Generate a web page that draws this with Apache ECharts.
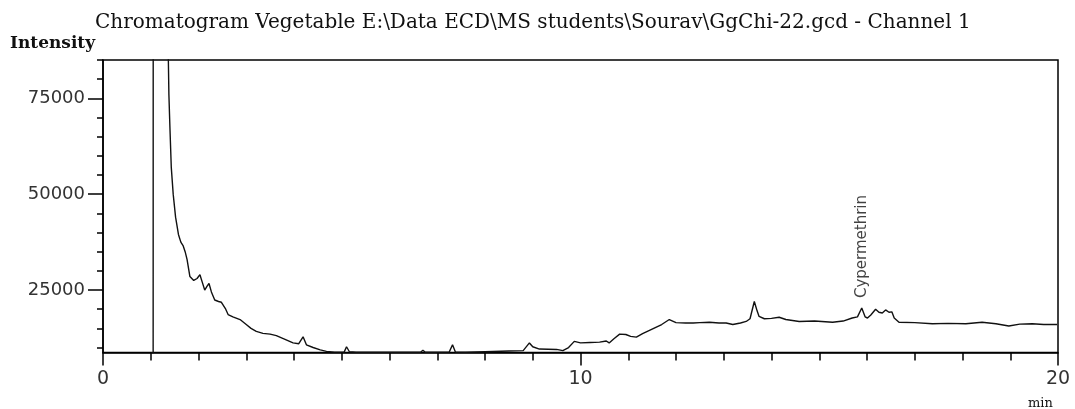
<!DOCTYPE html>
<html>
<head>
<meta charset="utf-8">
<script src="https://cdn.jsdelivr.net/npm/echarts@6/dist/echarts.min.js"></script>
<style>
html,body{margin:0;padding:0;background:#fff;}
#chart{width:1075px;height:409px;}
</style>
</head>
<body>
<div id="chart"></div>
<script>
// Chart text
const chartTitle = 'Chromatogram Vegetable E:\\Data ECD\\MS students\\Sourav\\GgChi-22.gcd - Channel 1';
const yAxisTitle = 'Intensity';
const xAxisTitle = 'min';

// Axis ranges and ticks
const xRange = [0, 20];
const yRange = [8700, 85000];
const yMajorTicks = [25000, 50000, 75000];
const yMinorTicks = [10000, 15000, 20000, 25000, 30000, 35000, 40000, 45000, 50000, 55000, 60000, 65000, 70000, 75000, 80000, 85000];

// Trace: retention time (min) and intensity
const retentionTime = [
  1.00, 1.05, 1.055, 1.34, 1.35, 1.38, 1.40, 1.43, 1.47, 1.52, 1.58, 1.63, 1.68, 1.72, 1.76, 1.82, 1.90, 1.97, 2.03, 2.08,
  2.13, 2.18, 2.22, 2.27, 2.34, 2.42, 2.48, 2.52, 2.57, 2.62, 2.72, 2.87, 3.00, 3.10, 3.21, 3.35, 3.50, 3.63, 3.80, 3.98,
  4.10, 4.19, 4.26, 4.40, 4.55, 4.68, 4.85, 5.05, 5.10, 5.16, 5.30, 5.80, 6.30, 6.65, 6.70, 6.75, 7.00, 7.25, 7.32, 7.38,
  7.60, 8.00, 8.50, 8.80, 8.93, 9.00, 9.14, 9.50, 9.63, 9.75, 9.87, 10.00, 10.20, 10.40, 10.54, 10.60, 10.70, 10.82, 10.95, 11.05,
  11.17, 11.30, 11.50, 11.70, 11.86, 12.00, 12.20, 12.36, 12.50, 12.70, 12.90, 13.05, 13.19, 13.35, 13.47, 13.55, 13.64, 13.70, 13.74, 13.85,
  14.00, 14.16, 14.30, 14.58, 14.90, 15.28, 15.50, 15.69, 15.80, 15.89, 15.96, 16.01, 16.08, 16.18, 16.25, 16.32, 16.39, 16.46, 16.52, 16.57,
  16.67, 17.00, 17.37, 17.70, 18.07, 18.41, 18.70, 18.97, 19.20, 19.46, 19.70, 19.98
];
const intensity = [
  8500, 8500, 300000, 300000, 100000, 76000, 68000, 57000, 50000, 44000, 39500, 37500, 36500, 35000, 33000, 28500, 27500, 28000, 29000, 27000,
  25000, 26000, 26700, 24500, 22400, 22000, 21800, 21500, 20000, 18600, 18000, 17300, 16000, 15000, 14200, 13700, 13500, 13100, 12200, 11200,
  11000, 12800, 10700, 10000, 9400, 9000, 8800, 8800, 10200, 8900, 8750, 8750, 8750, 8750, 9300, 8750, 8750, 8800, 10700, 8800,
  8750, 8900, 9100, 9200, 11200, 10200, 9600, 9500, 9200, 10000, 11600, 11200, 11300, 11400, 11700, 11200, 12300, 13500, 13400, 12900,
  12700, 13600, 14800, 16000, 17300, 16500, 16400, 16400, 16500, 16600, 16400, 16400, 16000, 16400, 16800, 17500, 22000, 19500, 18100, 17500,
  17600, 17900, 17300, 16800, 16900, 16600, 16900, 17700, 18000, 20300, 18000, 17700, 18500, 20000, 19200, 19000, 19800, 19200, 19300, 17700,
  16600, 16500, 16200, 16300, 16200, 16600, 16200, 15600, 16100, 16200, 16000, 16000
];

// Peak annotation
const peakName = 'Cypermethrin';
const peakTime = 15.89;
const peakIntensity = 20300;

const traceData = retentionTime.map((t, i) => [t, intensity[i]]);

const chart = echarts.init(document.getElementById('chart'), null, {renderer: 'canvas'});
const axisColor = '#000';
const labelFont = 'DejaVu Sans';
const option = {
  animation: false,
  backgroundColor: '#fff',
  title: [
    {text: chartTitle, left: 90, top: 8, padding: 5,
     textStyle: {fontFamily: 'DejaVu Serif', fontSize: 20, fontWeight: 'normal', color: '#111'}},
    {text: yAxisTitle, left: 5, top: 30, padding: 5,
     textStyle: {fontFamily: 'DejaVu Serif', fontSize: 17, fontWeight: 'bold', color: '#111'}},
    {text: xAxisTitle, left: 1023, top: 392, padding: 5,
     textStyle: {fontFamily: 'DejaVu Serif', fontSize: 13, fontWeight: 'normal', color: '#111'}}
  ],
  grid: {left: 103, right: 17, top: 60, bottom: 56.5, show: true, borderColor: '#000', borderWidth: 1.5, backgroundColor: 'transparent'},
  xAxis: {
    type: 'value', min: xRange[0], max: xRange[1], interval: 10,
    axisLine: {show: true, lineStyle: {color: axisColor, width: 1.5}},
    axisTick: {show: true, length: 13, lineStyle: {color: axisColor, width: 1.5}},
    minorTick: {show: true, splitNumber: 10, length: 8, lineStyle: {color: axisColor, width: 1.5}},
    axisLabel: {margin: 17, fontFamily: labelFont, fontSize: 19, color: '#333'},
    splitLine: {show: false}
  },
  yAxis: [
    {
      type: 'value', min: yRange[0], max: yRange[1], position: 'left',
      axisLine: {show: true, lineStyle: {color: axisColor, width: 1.5}},
      axisTick: {show: true, length: 15, customValues: yMajorTicks, lineStyle: {color: axisColor, width: 1.5}},
      axisLabel: {margin: 18, customValues: yMajorTicks, formatter: v => String(v), fontFamily: labelFont, fontSize: 18, color: '#333'},
      splitLine: {show: false}
    },
    {
      type: 'value', min: yRange[0], max: yRange[1], position: 'left',
      axisLine: {show: false},
      axisTick: {show: true, length: 6, customValues: yMinorTicks, lineStyle: {color: axisColor, width: 1.5}},
      axisLabel: {show: false},
      splitLine: {show: false}
    }
  ],
  series: [
    {
      type: 'line', data: traceData, yAxisIndex: 0, symbol: 'none', clip: true,
      lineStyle: {color: '#111', width: 1.4}
    },
    {
      type: 'scatter', data: [[peakTime, peakIntensity]], yAxisIndex: 0, symbolSize: 0, silent: true,
      label: {show: true, formatter: peakName, position: 'top', distance: 10, rotate: 90, align: 'left', verticalAlign: 'middle',
        fontFamily: labelFont, fontSize: 15, color: '#111'}
    }
  ]
};
chart.setOption(option);
</script>
</body>
</html>
